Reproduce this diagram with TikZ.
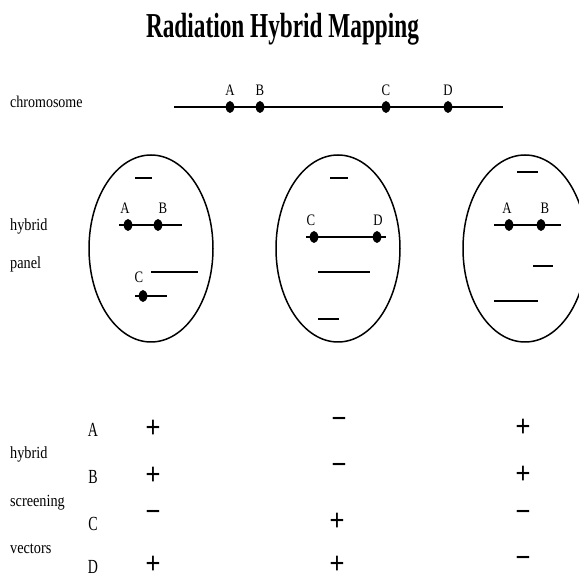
\documentclass[tikz,border=0pt]{standalone}
\usepackage{fontspec}
\setmainfont{Liberation Serif}
\newfontfamily\signfont{Liberation Sans}
\usetikzlibrary{shapes.geometric}
\tikzset{
  dot/.style={ellipse, fill=black, inner sep=0pt, minimum width=8.5pt, minimum height=12pt},
  seg/.style={line width=2pt},
  cell/.style={draw, line width=1.5pt, ellipse, minimum width=124pt, minimum height=187pt, inner sep=0pt},
  lbl/.style={font=\fontsize{16}{16}\selectfont, xscale=0.8, inner sep=0pt, anchor=base},
  rowlbl/.style={font=\fontsize{17}{17}\selectfont, xscale=0.84, inner sep=0pt, anchor=base west},
  gene/.style={font=\fontsize{20}{20}\selectfont, xscale=0.7, inner sep=0pt, anchor=base},
  sign/.style={font=\signfont\fontsize{30}{30}\selectfont, xscale=0.85, inner sep=0pt, anchor=center}
}
\begin{document}
\begin{tikzpicture}[x=1pt, y=-1pt]
\useasboundingbox (0,0) rectangle (579,577);
% title
\node[font=\fontsize{35}{35}\selectfont\bfseries, xscale=0.665, inner sep=0pt, anchor=base] (title) at (282.5,38) {Radiation Hybrid Mapping};
% chromosome
\node[font=\fontsize{16.5}{16.5}\selectfont, xscale=0.85, inner sep=0pt, anchor=base west] (chrlab) at (10,108) {chromosome};
\coordinate (chrL) at (174,107);
\coordinate (chrR) at (503,107);
\draw[line width=2.5pt] (chrL) -- (chrR);
\node[dot] (cA) at (230,107) {};
\node[dot] (cB) at (260,107) {};
\node[dot] (cC) at (386,107) {};
\node[dot] (cD) at (448,107) {};
\node[lbl] (cAl) at (230,96) {A};
\node[lbl] (cBl) at (260,96) {B};
\node[lbl] (cCl) at (386,96) {C};
\node[lbl] (cDl) at (448,96) {D};
% panel labels
\node[rowlbl] (hyb1) at (10,231) {hybrid};
\node[rowlbl] (pan) at (10,269) {panel};
% cells
\node[cell] (cell1) at (151,248.5) {};
\node[cell] (cell2) at (338,248.5) {};
\node[cell] (cell3) at (525,248.5) {};
% cell 1 contents
\coordinate (a1) at (135,178); \coordinate (a2) at (152,178);
\draw[seg] (a1) -- (a2);
\coordinate (b1) at (119,225); \coordinate (b2) at (182,225);
\draw[seg] (b1) -- (b2);
\node[dot] (p1A) at (128,225) {};
\node[dot] (p1B) at (158,225) {};
\node[lbl] (p1Al) at (125,214) {A};
\node[lbl] (p1Bl) at (163,214) {B};
\coordinate (c1) at (151,272); \coordinate (c2) at (198,272);
\draw[seg] (c1) -- (c2);
\coordinate (d1) at (135,296); \coordinate (d2) at (167,296);
\draw[seg] (d1) -- (d2);
\node[dot] (p1C) at (143,296) {};
\node[lbl] (p1Cl) at (139,283) {C};
% cell 2 contents
\coordinate (e1) at (330,178); \coordinate (e2) at (348,178);
\draw[seg] (e1) -- (e2);
\coordinate (f1) at (306,237); \coordinate (f2) at (386,237);
\draw[seg] (f1) -- (f2);
\node[dot] (p2C) at (314,237) {};
\node[dot] (p2D) at (377,237) {};
\node[lbl] (p2Cl) at (311,226) {C};
\node[lbl] (p2Dl) at (378,226) {D};
\coordinate (g1) at (318,272); \coordinate (g2) at (370,272);
\draw[seg] (g1) -- (g2);
\coordinate (h1) at (318,319); \coordinate (h2) at (339,319);
\draw[seg] (h1) -- (h2);
% cell 3 contents
\coordinate (i1) at (517,172); \coordinate (i2) at (538,172);
\draw[seg] (i1) -- (i2);
\coordinate (j1) at (494,225); \coordinate (j2) at (561,225);
\draw[seg] (j1) -- (j2);
\node[dot] (p3A) at (509,225) {};
\node[dot] (p3B) at (541,225) {};
\node[lbl] (p3Al) at (507,214) {A};
\node[lbl] (p3Bl) at (545,214) {B};
\coordinate (k1) at (533,266); \coordinate (k2) at (553,266);
\draw[seg] (k1) -- (k2);
\coordinate (l1) at (494,301); \coordinate (l2) at (538,301);
\draw[seg] (l1) -- (l2);
% screening
\node[rowlbl] (hyb2) at (10,459) {hybrid};
\node[rowlbl] (scr) at (10,507) {screening};
\node[rowlbl] (vec) at (10,554) {vectors};
\node[gene] (gA) at (93,437) {A};
\node[gene] (gB) at (93,484) {B};
\node[gene] (gC) at (93,531) {C};
\node[gene] (gD) at (93,573) {D};
% column 1
\node[sign] (s1A) at (153,429) {+};
\node[sign] (s1B) at (153,476) {+};
\node[sign] (s1C) at (153,516) {−};
\node[sign] (s1D) at (153,565) {+};
% column 2
\node[sign] (s2A) at (339,423) {−};
\node[sign] (s2B) at (339,469) {−};
\node[sign] (s2C) at (337,522) {+};
\node[sign] (s2D) at (337,565) {+};
% column 3
\node[sign] (s3A) at (523,428) {+};
\node[sign] (s3B) at (523,475) {+};
\node[sign] (s3C) at (523,516) {−};
\node[sign] (s3D) at (523,562) {−};
\end{tikzpicture}
\end{document}
